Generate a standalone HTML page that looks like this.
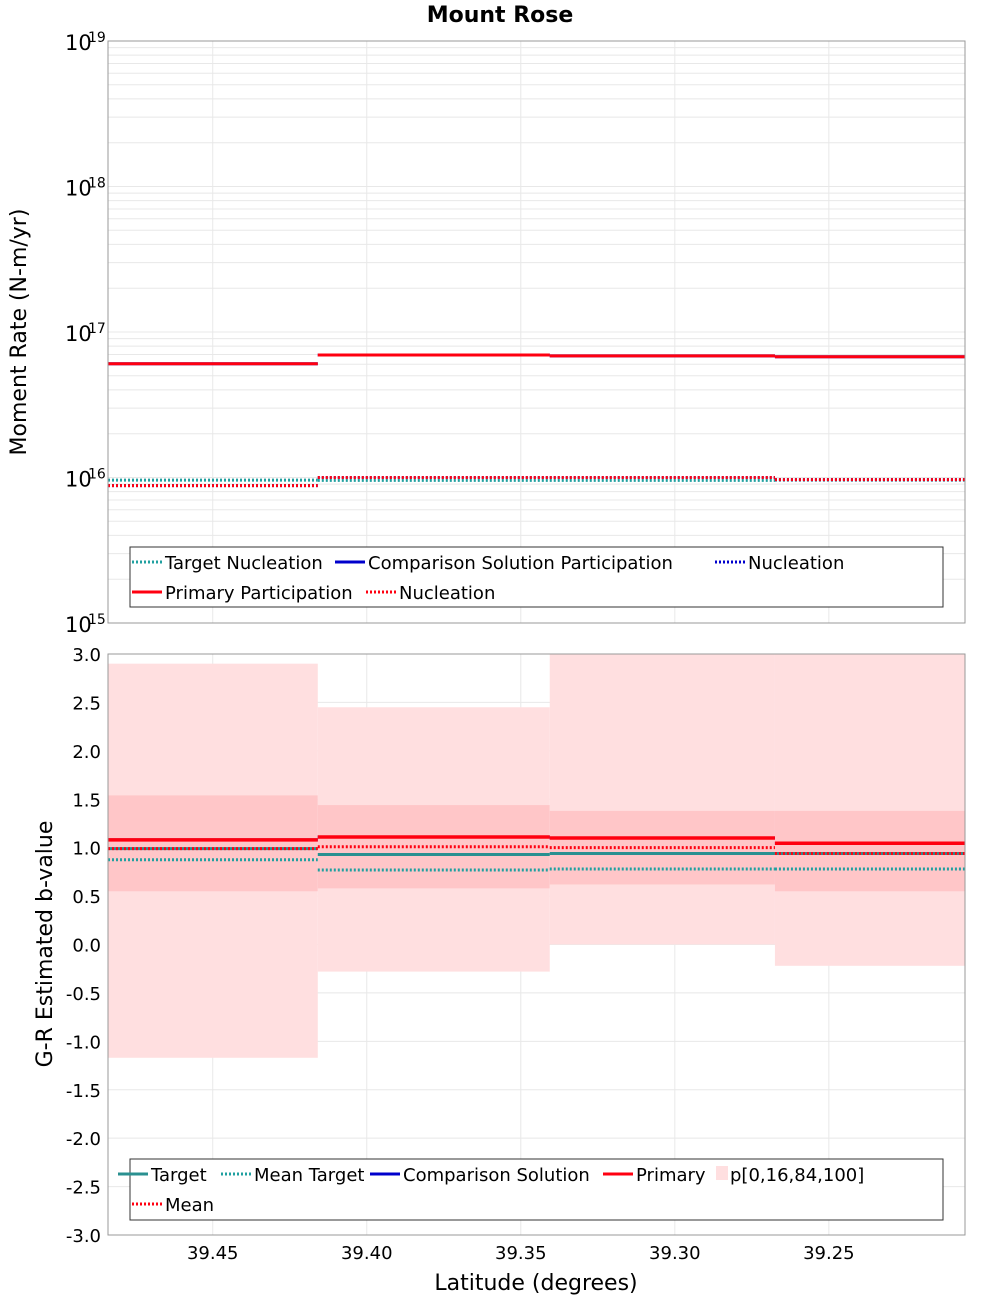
<!DOCTYPE html>
<html><head><meta charset="utf-8"><style>
body{margin:0;background:#fff}
svg{font-family:"DejaVu Sans","Liberation Sans",sans-serif}
</style></head><body>
<svg id="c" width="1000" height="1300" xmlns="http://www.w3.org/2000/svg"></svg>
<script>
const edges=[39.484,39.4159,39.3406,39.2675,39.2058];
const xTicks=[39.45,39.40,39.35,39.30,39.25];
const xTickLabels=["39.45","39.40","39.35","39.30","39.25"];
const topDecades=[15,16,17,18,19];
const primaryPart=[6.05e16,6.95e16,6.85e16,6.76e16];
const compPart=[6.05e16,6.95e16,6.85e16,6.76e16];
const primaryNucl=[8.8e15,1.0e16,1.0e16,9.66e15];
const compNucl=[8.8e15,1.0e16,1.0e16,9.66e15];
const targetNucl=[9.6e15,9.55e15,9.55e15,9.6e15];
const bTicks=[-3,-2.5,-2,-1.5,-1,-0.5,0,0.5,1,1.5,2,2.5,3];
const bTickLabels=["-3.0","-2.5","-2.0","-1.5","-1.0","-0.5","0.0","0.5","1.0","1.5","2.0","2.5","3.0"];
const pMin=[-1.17,-0.28,0.0,-0.22];
const pMax=[2.9,2.45,3.0,3.0];
const p16=[0.55,0.58,0.62,0.55];
const p84=[1.54,1.44,1.38,1.38];
const primaryB=[1.08,1.11,1.10,1.045];
const meanB=[0.99,1.01,1.00,0.94];
const compB=[1.08,1.11,1.10,1.045];
const targetB=[0.99,0.93,0.94,0.94];
const meanTargetB=[0.875,0.77,0.78,0.78];

const NS="http://www.w3.org/2000/svg";
const svg=document.getElementById('c');
function el(t,a,parent){const e=document.createElementNS(NS,t);for(const k in a)e.setAttribute(k,a[k]);(parent||svg).appendChild(e);return e;}
const L=108,R=965,T1=41,B1=623,T2=654,B2=1235;
const xs=v=>L+(v-edges[0])/(edges[4]-edges[0])*(R-L);
const ly=v=>B1-(Math.log10(v)-15)/4*(B1-T1);
const by=v=>B2-(v+3)/6*(B2-T2);

let t=el('text',{x:500,y:22,'text-anchor':'middle','font-size':22,'font-weight':'bold'});t.textContent='Mount Rose';


for(let d=15;d<19;d++)for(let m=1;m<10;m++){const y=ly(m*Math.pow(10,d));
 const g=el('line',{x1:L,x2:R,y1:y,y2:y,stroke:'#e8e8e8','stroke-width':1});
 }
xTicks.forEach(v=>{[[T1,B1],[T2,B2]].forEach(([a,b])=>{const g=el('line',{x1:xs(v),x2:xs(v),y1:a,y2:b,stroke:'#e8e8e8'});
 });});
bTicks.forEach(v=>{const g=el('line',{x1:L,x2:R,y1:by(v),y2:by(v),stroke:'#e8e8e8'});
 });

for(let i=0;i<4;i++){
 const r=el('rect',{x:xs(edges[i]),width:xs(edges[i+1])-xs(edges[i]),y:by(pMax[i]),height:by(pMin[i])-by(pMax[i]),fill:'#ffdfe0'});
 
 const r2=el('rect',{x:xs(edges[i]),width:xs(edges[i+1])-xs(edges[i]),y:by(p84[i]),height:by(p16[i])-by(p84[i]),fill:'#ffc6c8'});
 
}
function steps(vals,yf,color,dash,w,name){
 for(let i=0;i<vals.length;i++){
  const a={x1:xs(edges[i]),x2:xs(edges[i+1]),y1:yf(vals[i]),y2:yf(vals[i]),stroke:color,'stroke-width':w};
  if(dash)a['stroke-dasharray']='2,2';
  const l=el('line',a);
  
  
 }
}
steps(targetNucl,ly,'#20a0a0',true,3,'target-nucleation-line');
steps(compPart,ly,'#0000cc',false,3,'comparison-participation-line');
steps(compNucl,ly,'#0000cc',true,3,'comparison-nucleation-line');
steps(primaryPart,ly,'#ff0010',false,3,'primary-participation-line');
steps(primaryNucl,ly,'#ff0010',true,3,'primary-nucleation-line');

steps(meanTargetB,by,'#20a0a0',true,3,'mean-target-line');
steps(targetB,by,'#2a9090',false,3,'target-line');
steps(compB,by,'#0000cc',false,3,'comparison-line');
steps(primaryB,by,'#ff0010',false,3.5,'primary-line');
steps(meanB,by,'#ff0010',true,3,'mean-line');

[[T1,B1],[T2,B2]].forEach(([a,b])=>{const f=el('rect',{x:L,y:a,width:R-L,height:b-a,fill:'none',stroke:'#999'});
 });

topDecades.forEach(d=>{const y=ly(Math.pow(10,d));
 const a=el('text',{x:65,y:y+9,'font-size':21});a.textContent='10';
 
 const b=el('text',{x:88,y:y+1,'font-size':14});b.textContent=String(d);
 });
bTicks.forEach((v,i)=>{const a=el('text',{x:101,y:by(v)+7,'font-size':18,'text-anchor':'end'});a.textContent=bTickLabels[i];
 });
xTicks.forEach((v,i)=>{const a=el('text',{x:xs(v),y:1259,'font-size':18,'text-anchor':'middle'});a.textContent=xTickLabels[i];
 });

let ax=el('text',{x:536,y:1290,'font-size':22,'text-anchor':'middle'});ax.textContent='Latitude (degrees)';

ax=el('text',{transform:'translate(26,332) rotate(-90)','font-size':22,'text-anchor':'middle'});ax.textContent='Moment Rate (N-m/yr)';

ax=el('text',{transform:'translate(52,944) rotate(-90)','font-size':22,'text-anchor':'middle'});ax.textContent='G-R Estimated b-value';


function legendBox(y,h,name){const r=el('rect',{x:130,y:y,width:813,height:h,fill:'#fff',stroke:'#333'});
 }
function entry(x,y,color,dash,label,patch){
 if(patch){const p=el('rect',{x:x+3,y:y-8,width:12,height:14,fill:'#ffdfe0'});}
 else{const a={x1:x,x2:x+30,y1:y,y2:y,stroke:color,'stroke-width':3};if(dash)a['stroke-dasharray']='2,2';
 const l=el('line',a);}
 const tx=el('text',{x:x+(patch?17:33),y:y+7,'font-size':18});tx.textContent=label;
 }
legendBox(547,60,'top-legend');
entry(132,562,'#20a0a0',true,'Target Nucleation');
entry(335,562,'#0000cc',false,'Comparison Solution Participation');
entry(715,562,'#0000cc',true,'Nucleation');
entry(132,592,'#ff0010',false,'Primary Participation');
entry(366,592,'#ff0010',true,'Nucleation');
legendBox(1159,61,'bottom-legend');
entry(118,1174,'#2a9090',false,'Target');
entry(221,1174,'#20a0a0',true,'Mean Target');
entry(370,1174,'#0000cc',false,'Comparison Solution');
entry(603,1174,'#ff0010',false,'Primary');
entry(713,1174,'',false,'p[0,16,84,100]',true);
entry(132,1204,'#ff0010',true,'Mean');
</script>
</body></html>
